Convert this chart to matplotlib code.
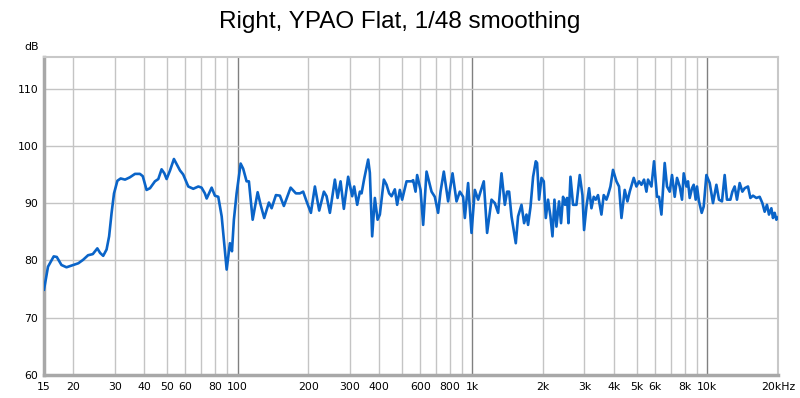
import matplotlib
matplotlib.use("Agg")
import matplotlib.pyplot as plt
from matplotlib.ticker import FixedLocator, NullFormatter, FixedFormatter

plt.rcParams['font.family'] = ['DejaVu Sans']

freq_hz = [
    15.0, 15.6, 16.5, 17.0, 17.8, 18.7, 20.0, 21.0, 22.0, 23.1, 24.2, 25.3, 26.0, 26.8, 27.7, 28.4,
    29.1, 29.8, 30.8, 31.8, 33.2, 34.8, 36.6, 38.4, 39.5, 41.0, 42.4, 44.5, 46.0, 47.5, 48.8, 49.9,
    51.6, 53.6, 56.9, 58.7, 61.7, 64.8, 68.1, 70.3, 72.6, 73.9, 77.6, 80.1, 82.8, 85.6, 87.5, 89.9,
    92.8, 94.7, 96.5, 99.1, 103.1, 105.7, 109.3, 111.8, 116.0, 121.8, 125.4, 129.9, 136.0, 139.7,
    145.7, 151.5, 157.5, 168.3, 177.2, 184.3, 190.3, 196.8, 205.3, 213.5, 222.7, 233.2, 239.4, 247.3,
    259.7, 266.7, 274.6, 283.6, 295.8, 307.7, 313.8, 323.2, 331.8, 337.4, 346.0, 359.9, 365.9, 374.3,
    384.3, 394.7, 403.6, 419.8, 431.0, 442.1, 452.6, 467.5, 478.2, 491.0, 502.2, 524.3, 550.7, 559.4,
    572.7, 581.7, 601.5, 617.1, 637.9, 669.9, 691.8, 714.5, 731.6, 755.6, 788.1, 823.0, 855.8, 884.0,
    913.0, 928.5, 958.7, 991.3, 1024, 1058, 1083, 1118, 1155, 1206, 1246, 1287, 1330, 1374, 1405,
    1433, 1467, 1530, 1565, 1618, 1660, 1699, 1726, 1767, 1813, 1861, 1885, 1922, 1968, 2013, 2053,
    2099, 2149, 2192, 2235, 2279, 2338, 2384, 2432, 2480, 2529, 2564, 2615, 2682, 2773, 2864, 2941,
    2988, 3059, 3138, 3212, 3285, 3350, 3426, 3542, 3623, 3720, 3779, 3869, 3968, 4104, 4210, 4311,
    4451, 4571, 4675, 4862, 4992, 5121, 5243, 5378, 5507, 5594, 5783, 5932, 6109, 6230, 6378, 6587,
    6737, 6918, 7076, 7266, 7432, 7631, 7805, 7937, 8149, 8277, 8417, 8608, 8752, 8925, 9040, 9219,
    9467, 9654, 9913, 10240, 10575, 10932, 11214, 11549, 11858, 12128, 12539, 12787, 13079, 13377,
    13736, 14104, 14425, 14900, 15255, 15650, 16180, 16710, 17160, 17550, 17950, 18310, 18740, 19040,
    19360, 19680, 20000,
]

spl_db = [
    74.9, 78.9, 80.7, 80.6, 79.2, 78.8, 79.2, 79.5, 80.1, 80.9, 81.1, 82.1, 81.3, 80.8, 81.9, 84.2,
    88.3, 91.7, 93.9, 94.3, 94.1, 94.5, 95.1, 95.1, 94.7, 92.3, 92.6, 93.8, 94.2, 95.9, 95.2, 94.2,
    95.7, 97.7, 95.7, 95.0, 92.9, 92.5, 92.9, 92.7, 91.7, 90.8, 92.7, 91.3, 91.1, 87.7, 83.6, 78.4,
    83.0, 81.6, 87.1, 91.7, 96.9, 96.0, 93.8, 93.8, 87.1, 91.9, 89.7, 87.4, 90.1, 89.1,
    91.4, 91.3, 89.5, 92.7, 91.7, 91.7, 92.0, 90.3, 88.3, 92.9, 88.7, 92.0, 91.2, 88.3,
    94.1, 90.9, 93.8, 89.0, 94.6, 91.2, 92.9, 89.7, 92.0, 91.7, 94.2, 97.6, 95.3, 84.2,
    90.9, 87.1, 88.0, 94.1, 93.2, 91.7, 91.2, 92.4, 89.7, 92.3, 90.6, 93.8, 93.8, 94.0,
    92.0, 94.9, 92.3, 86.2, 95.5, 92.0, 91.1, 88.3, 92.0, 95.5, 90.3, 95.2, 90.3, 92.0,
    91.1, 87.4, 93.5, 84.8, 92.3, 90.6, 92.0, 93.8, 84.8, 90.6, 90.0, 88.3, 95.2, 89.7, 92.0,
    92.0, 87.7, 83.0, 87.7, 89.7, 86.5, 88.0, 86.2, 89.3, 94.6, 97.3, 97.0, 90.6, 94.4, 93.8, 87.4,
    90.6, 87.7, 84.2, 90.6, 85.9, 90.3, 86.5, 91.1, 89.7, 90.9, 86.5, 94.6, 89.7, 89.7, 94.9, 91.4,
    85.3, 89.4, 92.6, 89.1, 91.1, 90.6, 91.4, 88.0, 91.4, 90.6, 91.4, 92.9, 95.8, 93.8, 92.9, 87.4,
    92.3, 90.3, 92.0, 94.4, 92.9, 93.8, 93.2, 94.1, 92.0, 94.1, 92.9, 97.3, 91.1, 91.1, 88.0, 97.0,
    92.9, 92.0, 94.9, 91.1, 94.4, 92.9, 90.6, 95.2, 92.9, 93.8, 90.9, 92.6, 93.2, 90.6, 92.9, 90.3,
    88.3, 89.4, 94.9, 93.5, 90.0, 93.2, 90.6, 90.3, 94.9, 90.6, 90.6, 92.0, 92.9, 90.6,
    93.5, 92.0, 92.6, 92.9, 90.9, 91.3, 90.9, 91.1, 90.0, 88.5, 89.7, 88.0, 89.1, 87.4,
    88.3, 87.1, 87.5,
]

x_ticks = [15, 20, 30, 40, 50, 60, 80, 100, 200, 300, 400, 600, 800,
           1000, 2000, 3000, 4000, 5000, 6000, 8000, 10000, 20000]
x_labels = ["15", "20", "30", "40", "50", "60", "80", "100", "200", "300", "400", "600", "800",
            "1k", "2k", "3k", "4k", "5k", "6k", "8k", "10k", "20kHz"]
minor_grid = [20, 30, 40, 50, 60, 70, 80, 90, 200, 300, 400, 500, 600, 700, 800, 900,
              2000, 3000, 4000, 5000, 6000, 7000, 8000, 9000]
major_grid = [100, 1000, 10000]
y_ticks = [60, 70, 80, 90, 100, 110]

fig = plt.figure(figsize=(8.0, 3.98), dpi=100)
ax = fig.add_axes([44/800, 1 - 375/398, (778 - 44)/800, (375 - 57)/398])

ax.set_xscale('log')
ax.set_xlim(15, 20000)
ax.set_ylim(60, 115.5)

for g in minor_grid:
    ax.axvline(g, color='#c4c4c4', lw=1.0, zorder=1)
for g in major_grid:
    ax.axvline(g, color='#808080', lw=1.0, zorder=1)
for yv in y_ticks[1:]:
    ax.axhline(yv, color='#c4c4c4', lw=1.0, zorder=1)

ax.plot(freq_hz, spl_db, color='#0a64c8', lw=1.9, zorder=3, solid_joinstyle='round')

ax.xaxis.set_major_locator(FixedLocator(x_ticks))
ax.xaxis.set_major_formatter(FixedFormatter(x_labels))
ax.xaxis.set_minor_locator(FixedLocator([]))
ax.xaxis.set_minor_formatter(NullFormatter())
ax.set_yticks(y_ticks)
ax.set_yticklabels([str(v) for v in y_ticks])
ax.tick_params(axis='both', length=0, labelsize=7.8, colors='#000000', pad=4)
ax.tick_params(axis='x', pad=5)

for side in ['left', 'bottom']:
    ax.spines[side].set_color('#a8a8a8')
    ax.spines[side].set_linewidth(2.5)
for side in ['right', 'top']:
    ax.spines[side].set_color('#c8c8c8')
    ax.spines[side].set_linewidth(1.5)

fig.text(0.5, 1 - 22/398, "Right, YPAO Flat, 1/48 smoothing", ha='center', va='center',
         fontsize=17.5, family=['Liberation Sans', 'DejaVu Sans'])
fig.text(32/800, 1 - 47/398, "dB", ha='center', va='center', fontsize=7.8)

fig.savefig("out.png", dpi=100)
